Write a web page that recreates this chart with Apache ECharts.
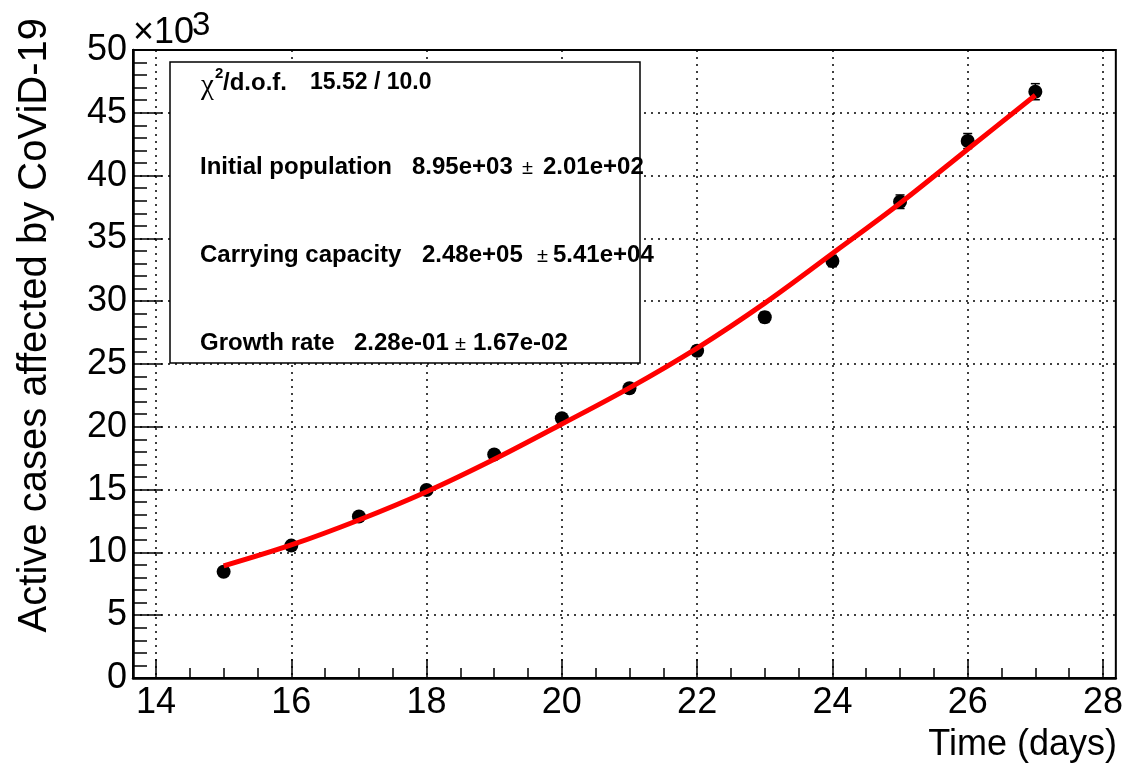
<!DOCTYPE html>
<html>
<head>
<meta charset="utf-8">
<script src="https://cdn.jsdelivr.net/npm/echarts@6/dist/echarts.min.js"></script>
<style>
html,body{margin:0;padding:0;background:#fff;}
#chart{width:1126px;height:766px;}
</style>
</head>
<body>
<div id="chart"></div>
<script>
// ---- data ----
const days = [15, 16, 17, 18, 19, 20, 21, 22, 23, 24, 25, 26, 27];
const activeCases = [8460, 10540, 12860, 14970, 17800, 20680, 23070, 26060, 28720, 33200, 37920, 42750, 46680];
const caseErrors = [250, 270, 290, 310, 330, 350, 370, 390, 410, 450, 540, 600, 640];
const fitDays = [15, 16, 17, 18, 19, 20, 21, 22, 23, 24, 25, 26, 27];
const fitValues = [8920, 10590, 12580, 14830, 17410, 20220, 23100, 26270, 29850, 33800, 37800, 42100, 46400];
const xMajorTicks = [14, 16, 18, 20, 22, 24, 26, 28];
const xMinorTicks = [14.5, 15, 15.5, 16.5, 17, 17.5, 18.5, 19, 19.5, 20.5, 21, 21.5, 22.5, 23, 23.5, 24.5, 25, 25.5, 26.5, 27, 27.5];
const xTitle = 'Time (days)';
const yTitle = 'Active cases affected by CoViD-19';
const statsLines = [
  { label: 'Initial population', value: '8.95e+03', err: '2.01e+02' },
  { label: 'Carrying capacity', value: '2.48e+05', err: '5.41e+04' },
  { label: 'Growth rate', value: '2.28e-01', err: '1.67e-02' }
];
const chiValue = '15.52 / 10.0';

const X_MIN = 13.66, X_MAX = 28.19;
const FONT = '"Liberation Sans", Arial, Helvetica, sans-serif';
const dotted = { color: '#000', width: 1.5, type: [2, 5] };

const chart = echarts.init(document.getElementById('chart'), null, { renderer: 'canvas' });

const pointData = days.map((d, i) => [d, activeCases[i], caseErrors[i]]);
const fitData = fitDays.map((d, i) => [d, fitValues[i]]);

// stats box texts
const statsGraphics = [];
const rowY = [167, 255, 343];
const valueX = [412, 422, 354];
const pmX = [522, 537, 455];
const errX = [543, 553, 473];
statsLines.forEach((s, i) => {
  const base = { fontFamily: FONT, fontWeight: 'bold', fontSize: 24, fill: '#000', textVerticalAlign: 'middle', textAlign: 'left' };
  statsGraphics.push({ type: 'text', x: 200, y: rowY[i], z: 20, style: Object.assign({ text: s.label }, base) });
  statsGraphics.push({ type: 'text', x: valueX[i], y: rowY[i], z: 20, style: Object.assign({ text: s.value }, base) });
  statsGraphics.push({ type: 'text', x: pmX[i], y: rowY[i] + 1, z: 20, style: Object.assign({}, base, { text: '±', fontWeight: 'normal', fontSize: 20 }) });
  statsGraphics.push({ type: 'text', x: errX[i], y: rowY[i], z: 20, style: Object.assign({ text: s.err }, base) });
});

const option = {
  backgroundColor: '#fff',
  animation: false,
  grid: {
    left: 133, right: 8, top: 50, bottom: 88,
    show: true, borderColor: '#000', borderWidth: 2, backgroundColor: 'transparent'
  },
  xAxis: [
    {
      type: 'value', min: X_MIN, max: X_MAX, splitNumber: 7,
      position: 'bottom',
      axisLine: { show: true, onZero: false, lineStyle: { color: '#000', width: 2.5 } },
      axisTick: { show: true, inside: true, length: 19, customValues: xMajorTicks, lineStyle: { color: '#000', width: 1.5 } },
      axisLabel: { show: true, customValues: xMajorTicks, fontFamily: FONT, fontSize: 36, color: '#000', margin: 7 },
      splitLine: { show: true, lineStyle: dotted },
      minorTick: { show: false }
    },
    {
      type: 'value', min: X_MIN, max: X_MAX, splitNumber: 7,
      position: 'bottom',
      axisLine: { show: false, onZero: false },
      axisTick: { show: true, inside: true, length: 10, customValues: xMinorTicks, lineStyle: { color: '#000', width: 1.5 } },
      axisLabel: { show: false },
      splitLine: { show: false }
    }
  ],
  yAxis: {
    type: 'value', min: 0, max: 50000, interval: 5000,
    axisLine: { show: true, onZero: false, lineStyle: { color: '#000', width: 2.5 } },
    axisTick: { show: true, inside: true, length: 29, lineStyle: { color: '#000', width: 1.5 } },
    minorTick: { show: true, splitNumber: 5, length: 14, lineStyle: { color: '#000', width: 1.5 } },
    axisLabel: { fontFamily: FONT, fontSize: 36, color: '#000', margin: 6, formatter: v => String(v / 1000) },
    splitLine: { show: true, lineStyle: dotted }
  },
  series: [
    {
      type: 'custom',
      name: 'errors',
      xAxisIndex: 0,
      data: pointData,
      z: 3,
      renderItem: function (params, api) {
        const x = api.value(0), y = api.value(1), e = api.value(2);
        const top = api.coord([x, y + e]);
        const bot = api.coord([x, y - e]);
        const st = { stroke: '#000', lineWidth: 1.5 };
        return {
          type: 'group',
          children: [
            { type: 'line', shape: { x1: top[0], y1: top[1], x2: bot[0], y2: bot[1] }, style: st },
            { type: 'line', shape: { x1: top[0] - 4.5, y1: top[1], x2: top[0] + 4.5, y2: top[1] }, style: st },
            { type: 'line', shape: { x1: bot[0] - 4.5, y1: bot[1], x2: bot[0] + 4.5, y2: bot[1] }, style: st }
          ]
        };
      }
    },
    {
      type: 'scatter',
      name: 'data',
      xAxisIndex: 0,
      data: pointData.map(p => [p[0], p[1]]),
      symbol: 'circle',
      symbolSize: 14,
      itemStyle: { color: '#000', opacity: 1 },
      z: 4
    },
    {
      type: 'line',
      name: 'fit',
      xAxisIndex: 0,
      data: fitData,
      smooth: 0.35,
      showSymbol: false,
      lineStyle: { color: '#ff0000', width: 5 },
      z: 5
    }
  ],
  graphic: [
    // stats box
    { type: 'rect', shape: { x: 170, y: 62, width: 470, height: 301 }, style: { fill: '#fff', stroke: '#000', lineWidth: 1.5 }, z: 10 },
    { type: 'text', x: 201, y: 86, z: 20, style: { text: 'χ', fontFamily: '"Liberation Serif", "DejaVu Serif", serif', fontSize: 29, fill: '#000', textVerticalAlign: 'middle' } },
    { type: 'text', x: 215, y: 74, z: 20, style: { text: '2', fontFamily: FONT, fontWeight: 'bold', fontSize: 15, fill: '#000', textVerticalAlign: 'middle' } },
    { type: 'text', x: 223, y: 83, z: 20, style: { text: '/d.o.f.', fontFamily: FONT, fontWeight: 'bold', fontSize: 24, fill: '#000', textVerticalAlign: 'middle' } },
    { type: 'text', x: 310, y: 83, z: 20, style: { text: chiValue, fontFamily: FONT, fontWeight: 'bold', fontSize: 23, fill: '#000', textVerticalAlign: 'middle' } },
    ...statsGraphics,
    // exponent label
    { type: 'text', x: 133, y: 33, z: 20, style: { text: '×10', fontFamily: FONT, fontSize: 36, fill: '#000', textVerticalAlign: 'middle' } },
    { type: 'text', x: 192, y: 26, z: 20, style: { text: '3', fontFamily: FONT, fontSize: 33, fill: '#000', textVerticalAlign: 'middle' } },
    // axis titles
    { type: 'text', x: 1117, y: 745, z: 20, style: { text: xTitle, fontFamily: FONT, fontSize: 36, fill: '#000', textAlign: 'right', textVerticalAlign: 'middle' } },
    { type: 'text', x: 35, y: 18, rotation: Math.PI / 2, z: 20, style: { text: yTitle, fontFamily: FONT, fontSize: 40, fill: '#000', textAlign: 'right', textVerticalAlign: 'middle' } }
  ]
};

chart.setOption(option);
</script>
</body>
</html>
